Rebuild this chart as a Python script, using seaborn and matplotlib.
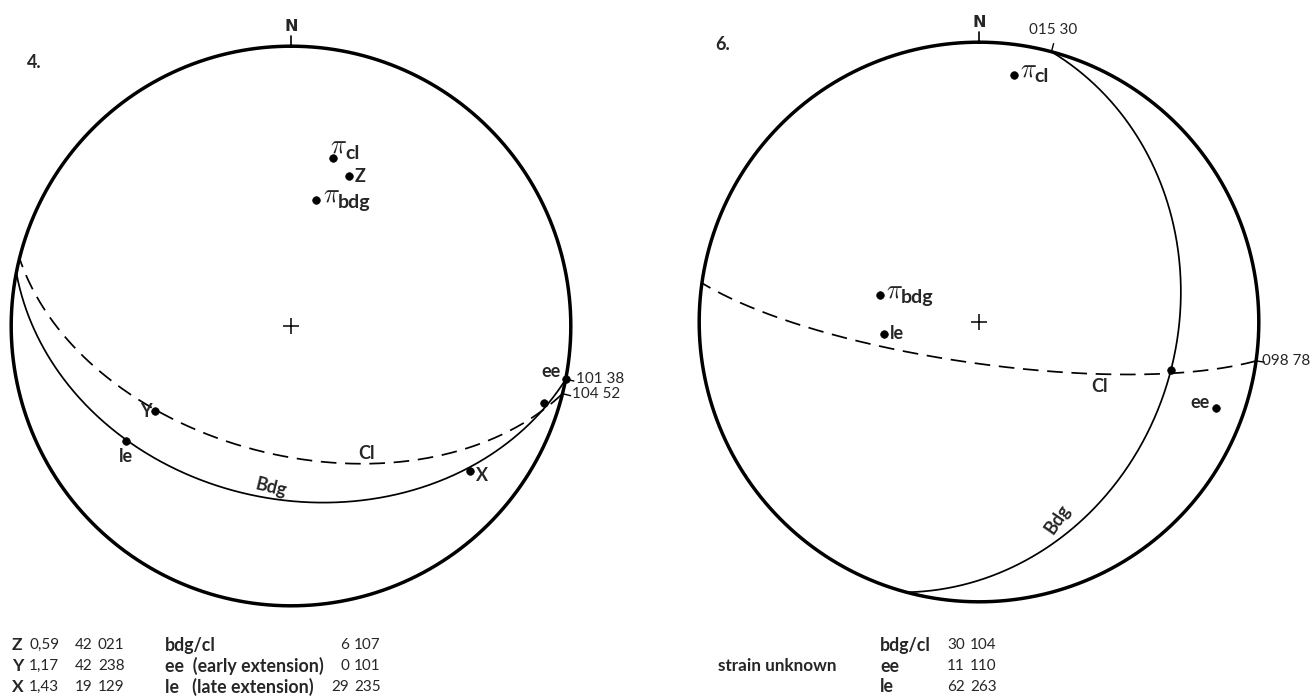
import numpy as np
import pandas as pd
import matplotlib
matplotlib.use("Agg")
import matplotlib.pyplot as plt
import seaborn as sns

sns.set_theme(style="white")
plt.rcParams['font.family'] = ['Lato', 'DejaVu Sans']

# ---- data: planes (strike, dip, right-hand rule) -----------------------
left_plane_names = ["Bdg", "Cl"]
left_strikes = [101, 104]
left_dips = [38, 52]

right_plane_names = ["Bdg", "Cl"]
right_strikes = [15, 98]
right_dips = [30, 78]

# ---- data: lineations (plunge, trend) ----------------------------------
left_point_names = ["Z", "Y", "X", "bdg/cl", "ee", "le"]
left_plunges = [42, 42, 19, 6, 0, 29]
left_trends = [21, 238, 129, 107, 101, 235]
left_ratios = ["0,59", "1,17", "1,43"]

right_point_names = ["bdg/cl", "ee", "le"]
right_plunges = [30, 11, 62]
right_trends = [104, 110, 263]


def project(trend, plunge):
    """Lambert equal-area, lower hemisphere, unit primitive."""
    t = np.radians(np.asarray(trend, float))
    p = np.radians(np.asarray(plunge, float))
    e = np.cos(p) * np.sin(t)
    n = np.cos(p) * np.cos(t)
    d = np.sin(p)
    k = 1.0 / np.sqrt(1.0 + d)
    return e * k, n * k


def great_circle(strike, dip, num=400):
    s = np.radians(strike)
    dd = np.radians(strike + 90)
    dp = np.radians(dip)
    sv = np.array([np.sin(s), np.cos(s), 0.0])
    dv = np.array([np.sin(dd) * np.cos(dp), np.cos(dd) * np.cos(dp), np.sin(dp)])
    t = np.linspace(0, np.pi, num)
    v = np.outer(np.cos(t), sv) + np.outer(np.sin(t), dv)
    k = 1.0 / np.sqrt(1.0 + np.clip(v[:, 2], 0, None))
    return pd.DataFrame({"x": v[:, 0] * k, "y": v[:, 1] * k, "i": np.arange(num)})


def pole(strike, dip):
    return project((strike - 90) % 360, 90 - dip)


W, H = 1314, 700
fig = plt.figure(figsize=(W / 100, H / 100), dpi=100)
HALF = 291  # axes half-size in pixels
LIM = 1.04
LBL = 13


def make_axes(cx, cy):
    ax = fig.add_axes([(cx - HALF) / W, (H - cy - HALF) / H, 2 * HALF / W, 2 * HALF / H])
    ax.set_xlim(-LIM, LIM)
    ax.set_ylim(-LIM, LIM)
    ax.set_aspect("equal")
    ax.axis("off")
    th = np.linspace(0, 2 * np.pi, 720)
    prim = pd.DataFrame({"x": np.sin(th), "y": np.cos(th), "i": np.arange(720)})
    sns.lineplot(data=prim, x="x", y="y", sort=False, estimator=None, color="black",
                 lw=2.5, ax=ax, clip_on=False)
    # north tick
    ax.plot([0, 0], [1.0, 1.035], color="black", lw=1.2, clip_on=False)
    ax.text(0, 1.045, "N", ha="center", va="bottom", fontsize=11.5, fontweight="bold",
            family="DejaVu Sans")
    ax.scatter([0], [0], marker="+", s=120, color="black", linewidths=1.1)
    return ax


def draw_plane(ax, strike, dip, dashed):
    df = great_circle(strike, dip)
    sns.lineplot(data=df, x="x", y="y", sort=False, estimator=None, color="black",
                 lw=1.25, ax=ax, clip_on=False,
                 linestyle=(0, (9, 5)) if dashed else "-")
    return df


def edge_tick(ax, az):
    a = np.radians(az)
    ax.plot([np.sin(a), 1.03 * np.sin(a)], [np.cos(a), 1.03 * np.cos(a)],
            color="black", lw=1.0, clip_on=False)
    return np.sin(a), np.cos(a)


def lab(ax, xy, text, dx, dy, ha="left", va="center", size=LBL, weight="bold", **kw):
    ax.annotate(text, xy=xy, xytext=(dx, dy), textcoords="offset pixels",
                ha=ha, va=va, fontsize=size, fontweight=weight, **kw)


def pi_label(ax, xy, sub, dx, dy):
    ax.annotate(r"$\pi$", xy=xy, xytext=(dx, dy), textcoords="offset pixels",
                ha="left", va="baseline", fontsize=19, math_fontfamily="cm")
    ax.annotate(sub, xy=xy, xytext=(dx + 15, dy - 6), textcoords="offset pixels",
                ha="left", va="baseline", fontsize=14, fontweight="bold")


def curve_label(ax, df, text, col, target, dx, dy, rot=0, va="center"):
    k = int(np.argmin(np.abs(df[col].to_numpy() - target)))
    ax.text(df.x[k] + dx, df.y[k] + dy, text, ha="center", va=va, fontsize=LBL,
            fontweight="bold", rotation=rot)


def dots(ax, xs, ys):
    sns.scatterplot(x=xs, y=ys, ax=ax, color="black", s=30, edgecolor="black",
                    linewidth=0.5, clip_on=False, legend=False)


# =================== panel 4 ===================
ax1 = make_axes(291, 326)
curves1 = {}
for name, s, d in zip(left_plane_names, left_strikes, left_dips):
    curves1[name] = draw_plane(ax1, s, d, dashed=(name == "Cl"))

px, py = project(left_trends, left_plunges)
pcl = pole(left_strikes[1], left_dips[1])
pbdg = pole(left_strikes[0], left_dips[0])
dots(ax1, list(px) + [float(pcl[0]), float(pbdg[0])], list(py) + [float(pcl[1]), float(pbdg[1])])

pi_label(ax1, pcl, "cl", -3, 5)
pi_label(ax1, pbdg, "bdg", 7, -2)
pts = dict(zip(left_point_names, zip(px, py)))
lab(ax1, pts["Z"], "Z", 6, -1)
lab(ax1, pts["Y"], "Y", -3, 0, ha="right")
lab(ax1, pts["X"], "X", 6, -5)
lab(ax1, pts["le"], "le", -1, -7, ha="center", va="top")
lab(ax1, pts["ee"], "ee", -5, 2, ha="right", va="baseline")

for s, d in zip(left_strikes, left_dips):
    xy = edge_tick(ax1, s)
    lab(ax1, xy, f"{s:03d} {d}", 10, 0, weight="normal", size=11)

curve_label(ax1, curves1["Cl"], "Cl", "x", 0.27, 0.0, 0.005, va="bottom")
curve_label(ax1, curves1["Bdg"], "Bdg", "x", -0.07, 0.0, -0.004, rot=-14, va="bottom")

# =================== panel 6 ===================
ax2 = make_axes(979, 322)
curves2 = {}
for name, s, d in zip(right_plane_names, right_strikes, right_dips):
    curves2[name] = draw_plane(ax2, s, d, dashed=(name == "Cl"))

qx, qy = project(right_trends, right_plunges)
qcl = pole(right_strikes[1], right_dips[1])
qbdg = pole(right_strikes[0], right_dips[0])
dots(ax2, list(qx) + [float(qcl[0]), float(qbdg[0])], list(qy) + [float(qcl[1]), float(qbdg[1])])
qpts = dict(zip(right_point_names, zip(qx, qy)))

pi_label(ax2, qcl, "cl", 6, -1)
pi_label(ax2, qbdg, "bdg", 6, -2)
lab(ax2, qpts["le"], "le", 6, 0)
lab(ax2, qpts["ee"], "ee", -6, 0, ha="right", va="baseline")

xy = edge_tick(ax2, right_strikes[0])
lab(ax2, xy, f"{right_strikes[0]:03d} {right_dips[0]}", -22, 22, weight="normal", size=11)
xy = edge_tick(ax2, right_strikes[1])
lab(ax2, xy, f"{right_strikes[1]:03d} {right_dips[1]}", 6, 0, weight="normal", size=11)

curve_label(ax2, curves2["Cl"], "Cl", "x", 0.43, 0.0, -0.015, va="top")
curve_label(ax2, curves2["Bdg"], "Bdg", "y", -0.72, -0.075, 0.012, rot=55)

# panel numbers
fig.text(27 / W, 1 - 62 / H, "4.", fontsize=13, fontweight="bold", va="center")
fig.text(715 / W, 1 - 44 / H, "6.", fontsize=13, fontweight="bold", va="center")


# ---- tables -------------------------------------------------------------
def ft(x, y, s, ha="left", bold=False, size=11):
    fig.text(x / W, 1 - y / H, s, ha=ha, va="center", fontsize=size,
             fontweight="bold" if bold else "normal")


rows_y = [645, 666, 687]
for i, nm in enumerate(["Z", "Y", "X"]):
    j = left_point_names.index(nm)
    ft(12, rows_y[i], nm, bold=True, size=12.5)
    ft(29, rows_y[i], left_ratios[i])
    ft(93, rows_y[i], f"{left_plunges[j]}", ha="right")
    ft(98, rows_y[i], f"{left_trends[j]:03d}")

desc = ["bdg/cl", "ee  (early extension)", "le   (late extension)"]
for i, nm in enumerate(["bdg/cl", "ee", "le"]):
    j = left_point_names.index(nm)
    ft(165, rows_y[i], desc[i], bold=True, size=12.8)
    ft(349, rows_y[i], f"{left_plunges[j]}", ha="right")
    ft(354, rows_y[i], f"{left_trends[j]:03d}")

ft(718, rows_y[1], "strain unknown", bold=True, size=12.3)
for i, nm in enumerate(right_point_names):
    ft(880, rows_y[i], nm, bold=True, size=12.8)
    ft(965, rows_y[i], f"{right_plunges[i]}", ha="right")
    ft(970, rows_y[i], f"{right_trends[i]:03d}")

fig.savefig("out.png", dpi=100, facecolor="white")
